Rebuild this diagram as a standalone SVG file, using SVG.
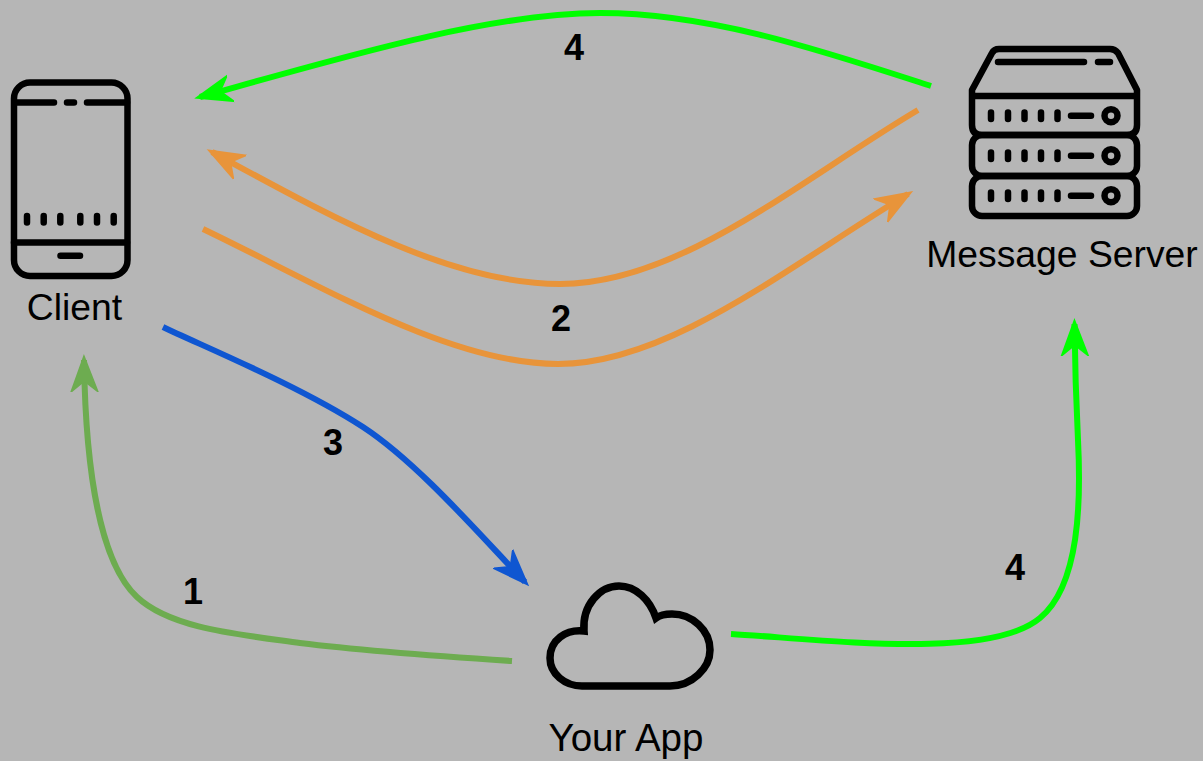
<svg xmlns="http://www.w3.org/2000/svg" width="1203" height="761" viewBox="0 0 1203 761">
<style>
.i{fill:none;stroke:#000;stroke-width:6.5;stroke-linecap:round;stroke-linejoin:round}
.c{fill:none;stroke-width:6}
.t{font-family:"Liberation Sans",Arial,sans-serif;font-size:37.300px;fill:#000;text-anchor:middle}
.b{font-weight:bold;font-size:36px}
</style>
<defs>
<marker id="ao" markerUnits="userSpaceOnUse" markerWidth="50" markerHeight="40" refX="32" refY="20" orient="auto"><path d="M-2,5 L38,20 L-2,35 L10,20Z" fill="#e8943a"/></marker>
<marker id="ag" markerUnits="userSpaceOnUse" markerWidth="50" markerHeight="40" refX="32" refY="20" orient="auto"><path d="M-2,5 L38,20 L-2,35 L10,20Z" fill="#00ff00"/></marker>
<marker id="ab" markerUnits="userSpaceOnUse" markerWidth="50" markerHeight="40" refX="32" refY="20" orient="auto"><path d="M-2,5 L38,20 L-2,35 L10,20Z" fill="#0f56d1"/></marker>
<marker id="al" markerUnits="userSpaceOnUse" markerWidth="50" markerHeight="40" refX="32" refY="20" orient="auto"><path d="M-2,5 L38,20 L-2,35 L10,20Z" fill="#6dac50"/></marker>
</defs>
<rect width="1203" height="761" fill="#b6b6b6"/>
<g id="connectors">
<path class="c" stroke="#00ff00" marker-end="url(#ag)" d="M931,86 C820,50 710,13 600,13 C490,13 340,58 200,97"/>
<path class="c" stroke="#e8943a" marker-end="url(#ao)" d="M918,110 C800,180 680,284 560,284 C450,284 330,216 212,152"/>
<path class="c" stroke="#e8943a" marker-end="url(#ao)" d="M203,229 C320,285 450,364 558,364 C670,364 790,265 908,194"/>
<path class="c" stroke="#0f56d1" marker-end="url(#ab)" d="M163,327 C200,345 298,385 363,427 C418,463 480,535 525,582"/>
<path class="c" stroke="#6dac50" marker-end="url(#al)" d="M512,661 C420,655 340,648 300,643 C235,634 170,628 137,597 C108,570 86,500 84,360"/>
<path class="c" stroke="#00ff00" marker-end="url(#ag)" d="M731,634 C830,640 990,660 1040,618 C1080,585 1081,500 1078,440 C1076,400 1075,370 1074.500,324"/>
</g>
<g id="client">
<rect class="i" x="14" y="82.500" width="113.500" height="193.500" rx="16"/>
<path class="i" d="M15,102.500 H54 M67,102.500 H74 M87,102.500 H127 M14,242.500 H127 M60.500,255.700 H80 M27,216 V222.500 M43.700,216 V222.500 M60.300,216 V222.500 M80.300,216 V222.500 M97,216 V222.500 M113.700,216 V222.500"/>
<text class="t" x="74.500" y="320">Client</text>
</g>
<g id="server">
<path class="i" d="M972,90 L992,53 Q994,49 999,49 H1110 Q1115,49 1118,53 L1137,90 V125 Q1137,135 1127,135 H982 Q972,135 972,125 Z M972,96 H1137"/>
<rect class="i" x="972" y="135" width="165" height="41" rx="10"/>
<rect class="i" x="972" y="176" width="165" height="40" rx="10"/>
<path class="i" d="M998,62 H1084 M1098,62 H1110 M991,112.500 V119 M1008,112.500 V119 M1024.500,112.500 V119 M1041,112.500 V119 M1057.500,112.500 V119 M1071,115.700 H1091 M991,152.500 V159 M1008,152.500 V159 M1024.500,152.500 V159 M1041,152.500 V159 M1057.500,152.500 V159 M1071,155.700 H1091 M991,192.500 V199 M1008,192.500 V199 M1024.500,192.500 V199 M1041,192.500 V199 M1057.500,192.500 V199 M1071,195.700 H1091"/>
<circle class="i" cx="1111" cy="115.700" r="6.500"/><circle class="i" cx="1111" cy="155.700" r="6.500"/><circle class="i" cx="1111" cy="195.700" r="6.500"/>
<text class="t" x="1062" y="267">Message Server</text>
</g>
<g id="app">
<path class="i" style="stroke-width:7.500;stroke-linejoin:miter" d="M582,686 H670 C692,686 710,668 710,650 C710,630 692,614 672,614 C666,614 660,615 656,618 C650,600 636,586 619,586 C600,586 582,605 584,631 C566,629 550,640 550,658 C550,674 565,686 582,686 Z"/>
<text class="t" style="font-size:38.500px" x="626" y="751">Your App</text>
</g>
<g id="labels">
<text class="t b" x="574" y="60">4</text>
<text class="t b" x="561" y="331">2</text>
<text class="t b" x="333" y="455">3</text>
<text class="t b" x="193" y="604">1</text>
<text class="t b" x="1015" y="580">4</text>
</g>
</svg>
